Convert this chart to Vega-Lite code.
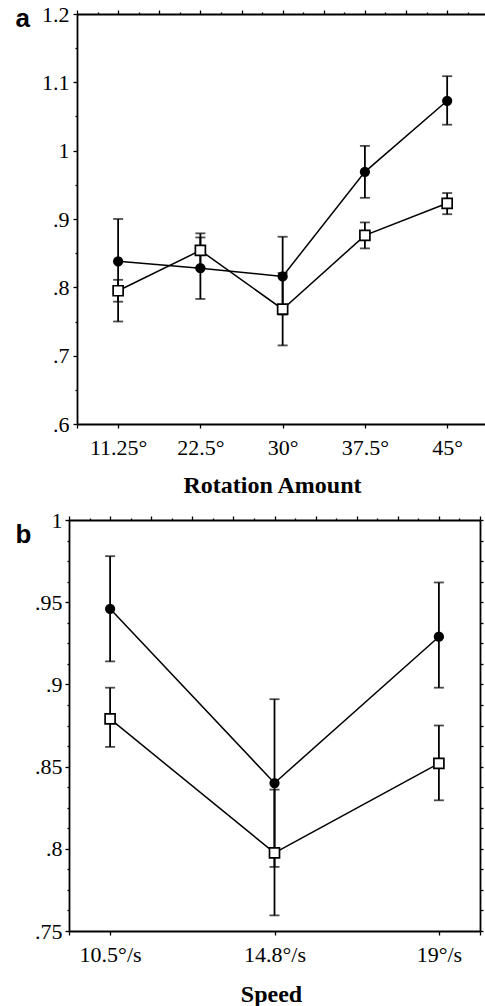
{
  "$schema": "https://vega.github.io/schema/vega-lite/v6.json",
  "padding": {"left": 15, "top": 3, "right": 0, "bottom": 0},
  "spacing": 12,
  "config": {
    "view": {"stroke": null},
    "font": "Liberation Serif, Times New Roman, serif",
    "axis": {
      "grid": false,
      "labelFont": "Liberation Serif, Times New Roman, serif",
      "labelFontSize": 22,
      "labelColor": "black",
      "labelFlush": false,
      "labelOverlap": false,
      "labelBound": false,
      "domainColor": "black",
      "domainWidth": 1.8,
      "tickColor": "black",
      "tickWidth": 1.3,
      "titleColor": "black"
    }
  },
  "datasets": {
    "rotation": [
      {"pos": 0, "label": "11.25°", "group": "filled", "mean": 0.838, "lo": 0.750, "hi": 0.900},
      {"pos": 1, "label": "22.5°", "group": "filled", "mean": 0.828, "lo": 0.783, "hi": 0.873},
      {"pos": 2, "label": "30°", "group": "filled", "mean": 0.816, "lo": 0.760, "hi": 0.874},
      {"pos": 3, "label": "37.5°", "group": "filled", "mean": 0.969, "lo": 0.931, "hi": 1.007},
      {"pos": 4, "label": "45°", "group": "filled", "mean": 1.073, "lo": 1.038, "hi": 1.109},
      {"pos": 0, "label": "11.25°", "group": "open", "mean": 0.795, "lo": 0.779, "hi": 0.811},
      {"pos": 1, "label": "22.5°", "group": "open", "mean": 0.854, "lo": 0.829, "hi": 0.879},
      {"pos": 2, "label": "30°", "group": "open", "mean": 0.768, "lo": 0.715, "hi": 0.821},
      {"pos": 3, "label": "37.5°", "group": "open", "mean": 0.876, "lo": 0.857, "hi": 0.895},
      {"pos": 4, "label": "45°", "group": "open", "mean": 0.923, "lo": 0.907, "hi": 0.938}
    ],
    "speed": [
      {"pos": 0, "label": "10.5°/s", "group": "filled", "mean": 0.946, "lo": 0.914, "hi": 0.978},
      {"pos": 1, "label": "14.8°/s", "group": "filled", "mean": 0.840, "lo": 0.789, "hi": 0.891},
      {"pos": 2, "label": "19°/s", "group": "filled", "mean": 0.929, "lo": 0.898, "hi": 0.962},
      {"pos": 0, "label": "10.5°/s", "group": "open", "mean": 0.879, "lo": 0.862, "hi": 0.898},
      {"pos": 1, "label": "14.8°/s", "group": "open", "mean": 0.7975, "lo": 0.7595, "hi": 0.836},
      {"pos": 2, "label": "19°/s", "group": "open", "mean": 0.852, "lo": 0.8295, "hi": 0.875}
    ]
  },
  "vconcat": [
    {
      "width": 408,
      "height": 410,
      "data": {"name": "rotation"},
      "resolve": {"axis": {"x": "independent", "y": "independent"}},
      "layer": [
        {
          "mark": {"type": "rule", "color": "black", "strokeWidth": 1.8},
          "encoding": {
            "x": {"field": "pos", "type": "quantitative", "scale": {"domain": [-0.5, 4.46]},
              "axis": {"orient": "bottom", "values": [-0.5, 0, 1, 2, 3, 4], "tickSize": 4, "labelPadding": 9,
                "labelExpr": "['11.25°','22.5°','30°','37.5°','45°'][datum.value] || ''",
                "title": "Rotation Amount", "titleFont": "Liberation Serif, Times New Roman, serif", "titleFontWeight": "bold", "titleFontSize": 24,
                "titleAlign": "center", "titleBaseline": "alphabetic", "titleX": 195, "titleY": 68}},
            "y": {"field": "lo", "type": "quantitative", "scale": {"domain": [0.6, 1.2]},
              "axis": {"orient": "left",
                "values": [0.6, 0.65, 0.7, 0.75, 0.8, 0.85, 0.9, 0.95, 1, 1.05, 1.1, 1.15, 1.2],
                "tickSize": {"condition": {"test": "abs(datum.value*10-round(datum.value*10))<0.001", "value": 4}, "value": 2},
                "labelPadding": 4,
                "labelExpr": "abs(datum.value*10-round(datum.value*10))<0.001 ? (datum.value<1 ? substring(format(datum.value,'.1~f'),1) : format(datum.value,'.1~f')) : ''",
                "title": "a", "titleFont": "Liberation Sans, Arial, sans-serif", "titleFontWeight": "bold", "titleFontSize": 26,
                "titleAngle": 0, "titleAlign": "left", "titleBaseline": "alphabetic", "titleX": -62, "titleY": 12.5}},
            "y2": {"field": "hi"}
          }
        },
        {
          "mark": {"type": "line", "color": "black", "strokeWidth": 1.5},
          "encoding": {
            "x": {"field": "pos", "type": "quantitative", "scale": {"domain": [-0.5, 4.46]},
              "axis": {"orient": "top", "labels": false, "title": null,
                "values": [-0.5, -0.25, 0, 0.25, 0.5, 0.75, 1, 1.25, 1.5, 1.75, 2, 2.25, 2.5, 2.75, 3, 3.25, 3.5, 3.75, 4, 4.25],
                "tickSize": {"condition": {"test": "abs(datum.value*2-round(datum.value*2))<0.01", "value": 4}, "value": 2}}},
            "y": {"field": "mean", "type": "quantitative", "scale": {"domain": [0.6, 1.2]}, "axis": null},
            "detail": {"field": "group", "type": "nominal"}
          }
        },
        {
          "mark": {"type": "tick", "orient": "horizontal", "color": "black", "size": 10, "thickness": 1.8},
          "encoding": {
            "x": {"field": "pos", "type": "quantitative", "scale": {"domain": [-0.5, 4.46]}, "axis": null},
            "y": {"field": "lo", "type": "quantitative", "scale": {"domain": [0.6, 1.2]}, "axis": null}
          }
        },
        {
          "mark": {"type": "tick", "orient": "horizontal", "color": "black", "size": 10, "thickness": 1.8},
          "encoding": {
            "x": {"field": "pos", "type": "quantitative", "scale": {"domain": [-0.5, 4.46]}, "axis": null},
            "y": {"field": "hi", "type": "quantitative", "scale": {"domain": [0.6, 1.2]}, "axis": null}
          }
        },
        {
          "transform": [{"filter": "datum.group === 'open'"}],
          "mark": {"type": "point", "shape": "square", "filled": true, "fill": "white", "stroke": "black", "strokeWidth": 1.7, "size": 100, "opacity": 1},
          "encoding": {
            "x": {"field": "pos", "type": "quantitative", "scale": {"domain": [-0.5, 4.46]}, "axis": null},
            "y": {"field": "mean", "type": "quantitative", "scale": {"domain": [0.6, 1.2]}, "axis": null}
          }
        },
        {
          "transform": [{"filter": "datum.group === 'filled'"}],
          "mark": {"type": "point", "shape": "circle", "filled": true, "color": "black", "size": 105, "opacity": 1},
          "encoding": {
            "x": {"field": "pos", "type": "quantitative", "scale": {"domain": [-0.5, 4.46]}, "axis": null},
            "y": {"field": "mean", "type": "quantitative", "scale": {"domain": [0.6, 1.2]}, "axis": null}
          }
        }
      ]
    },
    {
      "width": 403,
      "height": 411,
      "data": {"name": "speed"},
      "resolve": {"axis": {"x": "independent", "y": "independent"}},
      "layer": [
        {
          "mark": {"type": "rule", "color": "black", "strokeWidth": 1.8},
          "encoding": {
            "x": {"field": "pos", "type": "quantitative", "scale": {"domain": [-0.25, 2.25], "range": [-8, 403]},
              "axis": {"orient": "bottom", "values": [-0.25, 0, 1, 2, 2.25], "tickSize": 4, "labelPadding": 9,
                "labelExpr": "['10.5°/s','14.8°/s','19°/s'][datum.value] || ''",
                "title": "Speed", "titleFont": "Liberation Serif, Times New Roman, serif", "titleFontWeight": "bold", "titleFontSize": 24,
                "titleAlign": "center", "titleBaseline": "alphabetic", "titleX": 194, "titleY": 70}},
            "y": {"field": "lo", "type": "quantitative", "scale": {"domain": [0.75, 1]},
              "axis": {"orient": "left", "offset": 8,
                "values": [0.75, 0.7625, 0.775, 0.7875, 0.8, 0.8125, 0.825, 0.8375, 0.85, 0.8625, 0.875, 0.8875, 0.9, 0.9125, 0.925, 0.9375, 0.95, 0.9625, 0.975, 0.9875, 1],
                "tickSize": {"condition": {"test": "abs(datum.value*20-round(datum.value*20))<0.001", "value": 4}, "value": 2},
                "labelPadding": 3,
                "labelExpr": "abs(datum.value*20-round(datum.value*20))<0.001 ? (datum.value<1 ? substring(format(datum.value,'.2~f'),1) : format(datum.value,'.2~f')) : ''",
                "title": "b", "titleFont": "Liberation Sans, Arial, sans-serif", "titleFontWeight": "bold", "titleFontSize": 26,
                "titleAngle": 0, "titleAlign": "left", "titleBaseline": "alphabetic", "titleX": -54, "titleY": 22.2}},
            "y2": {"field": "hi"}
          }
        },
        {
          "mark": {"type": "line", "color": "black", "strokeWidth": 1.5},
          "encoding": {
            "x": {"field": "pos", "type": "quantitative", "scale": {"domain": [-0.25, 2.25], "range": [-8, 403]},
              "axis": {"orient": "top", "labels": false, "title": null,
                "values": [-0.25, -0.125, 0, 0.125, 0.25, 0.375, 0.5, 0.625, 0.75, 0.875, 1, 1.125, 1.25, 1.375, 1.5, 1.625, 1.75, 1.875, 2, 2.125, 2.25],
                "tickSize": {"condition": {"test": "abs(datum.value*4-round(datum.value*4))<0.01", "value": 4}, "value": 2}}},
            "y": {"field": "mean", "type": "quantitative", "scale": {"domain": [0.75, 1]},
              "axis": {"orient": "right", "labels": false, "title": null,
                "values": [0.75, 0.7625, 0.775, 0.7875, 0.8, 0.8125, 0.825, 0.8375, 0.85, 0.8625, 0.875, 0.8875, 0.9, 0.9125, 0.925, 0.9375, 0.95, 0.9625, 0.975, 0.9875, 1],
                "tickSize": 3}},
            "detail": {"field": "group", "type": "nominal"}
          }
        },
        {
          "mark": {"type": "tick", "orient": "horizontal", "color": "black", "size": 10, "thickness": 1.8},
          "encoding": {
            "x": {"field": "pos", "type": "quantitative", "scale": {"domain": [-0.25, 2.25], "range": [-8, 403]}, "axis": null},
            "y": {"field": "lo", "type": "quantitative", "scale": {"domain": [0.75, 1]}, "axis": null}
          }
        },
        {
          "mark": {"type": "tick", "orient": "horizontal", "color": "black", "size": 10, "thickness": 1.8},
          "encoding": {
            "x": {"field": "pos", "type": "quantitative", "scale": {"domain": [-0.25, 2.25], "range": [-8, 403]}, "axis": null},
            "y": {"field": "hi", "type": "quantitative", "scale": {"domain": [0.75, 1]}, "axis": null}
          }
        },
        {
          "transform": [{"filter": "datum.group === 'open'"}],
          "mark": {"type": "point", "shape": "square", "filled": true, "fill": "white", "stroke": "black", "strokeWidth": 1.7, "size": 100, "opacity": 1},
          "encoding": {
            "x": {"field": "pos", "type": "quantitative", "scale": {"domain": [-0.25, 2.25], "range": [-8, 403]}, "axis": null},
            "y": {"field": "mean", "type": "quantitative", "scale": {"domain": [0.75, 1]}, "axis": null}
          }
        },
        {
          "transform": [{"filter": "datum.group === 'filled'"}],
          "mark": {"type": "point", "shape": "circle", "filled": true, "color": "black", "size": 105, "opacity": 1},
          "encoding": {
            "x": {"field": "pos", "type": "quantitative", "scale": {"domain": [-0.25, 2.25], "range": [-8, 403]}, "axis": null},
            "y": {"field": "mean", "type": "quantitative", "scale": {"domain": [0.75, 1]}, "axis": null}
          }
        }
      ]
    }
  ]
}
